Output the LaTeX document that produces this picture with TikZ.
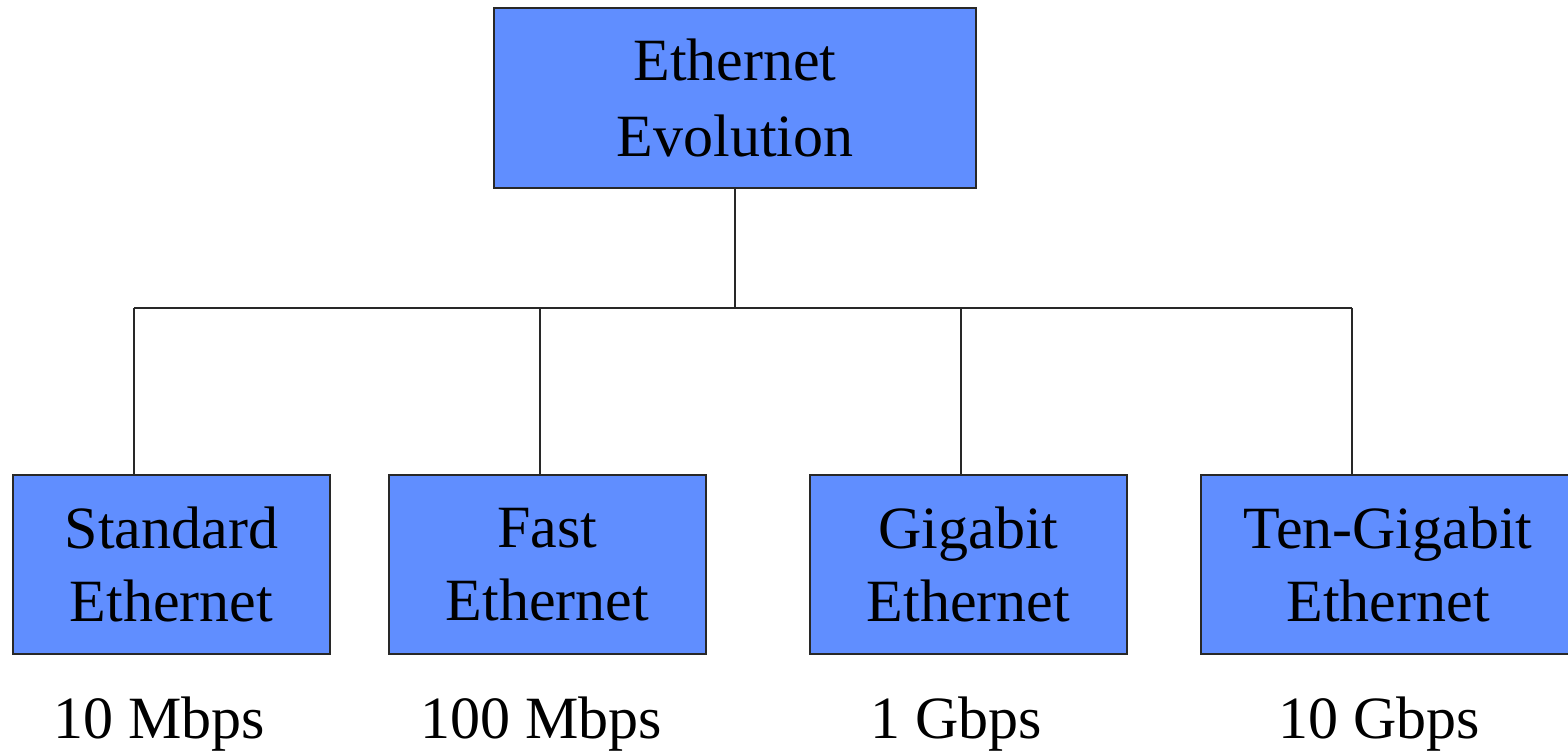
\documentclass[tikz,border=0pt]{standalone}
\usepackage{fontspec}
\setmainfont{Liberation Serif}
\definecolor{boxblue}{RGB}{96,142,255}
\definecolor{edge}{RGB}{40,40,40}
\begin{document}
\begin{tikzpicture}[x=1pt,y=-1pt,
  bigfont/.style={font=\fontsize{60}{76}\selectfont},
  topbox/.style={draw=edge,line width=1.5pt,fill=boxblue,minimum width=482pt,minimum height=180pt,inner sep=0pt,align=center,bigfont},
  subbox/.style={draw=edge,line width=1.5pt,fill=boxblue,minimum width=317pt,minimum height=179pt,inner sep=0pt,align=center,font=\fontsize{60}{73}\selectfont},
  speed/.style={anchor=base,inner sep=0pt,bigfont},
  conn/.style={draw=edge,line width=1.5pt}]
\useasboundingbox (0,0) rectangle (1568,753);
\node[topbox] (root) at (735,98) {Ethernet\\Evolution};
\node[subbox] (s1) at (171.5,564.5) {Standard\\Ethernet};
\node[subbox] (s2) at (547.5,564.5) {Fast\\Ethernet};
\node[subbox] (s3) at (968.5,564.5) {Gigabit\\Ethernet};
\node[subbox,minimum width=374pt] (s4) at (1388,564.5) {Ten-Gigabit\\Ethernet};
\node[speed] (v1) at (159,738) {10 Mbps};
\node[speed] (v2) at (541,738) {100 Mbps};
\node[speed] (v3) at (956,738) {1 Gbps};
\node[speed] (v4) at (1379,738) {10 Gbps};
\coordinate (j) at (735,308);
\coordinate (j1) at (134,308);
\coordinate (j2) at (540,308);
\coordinate (j3) at (961,308);
\coordinate (j4) at (1352,308);
\draw[conn] (root.south) -- (j);
\draw[conn] (j1) -- (j4);
\draw[conn] (j1) -- (j1 |- s1.north);
\draw[conn] (j2) -- (j2 |- s2.north);
\draw[conn] (j3) -- (j3 |- s3.north);
\draw[conn] (j4) -- (j4 |- s4.north);
\end{tikzpicture}
\end{document}
